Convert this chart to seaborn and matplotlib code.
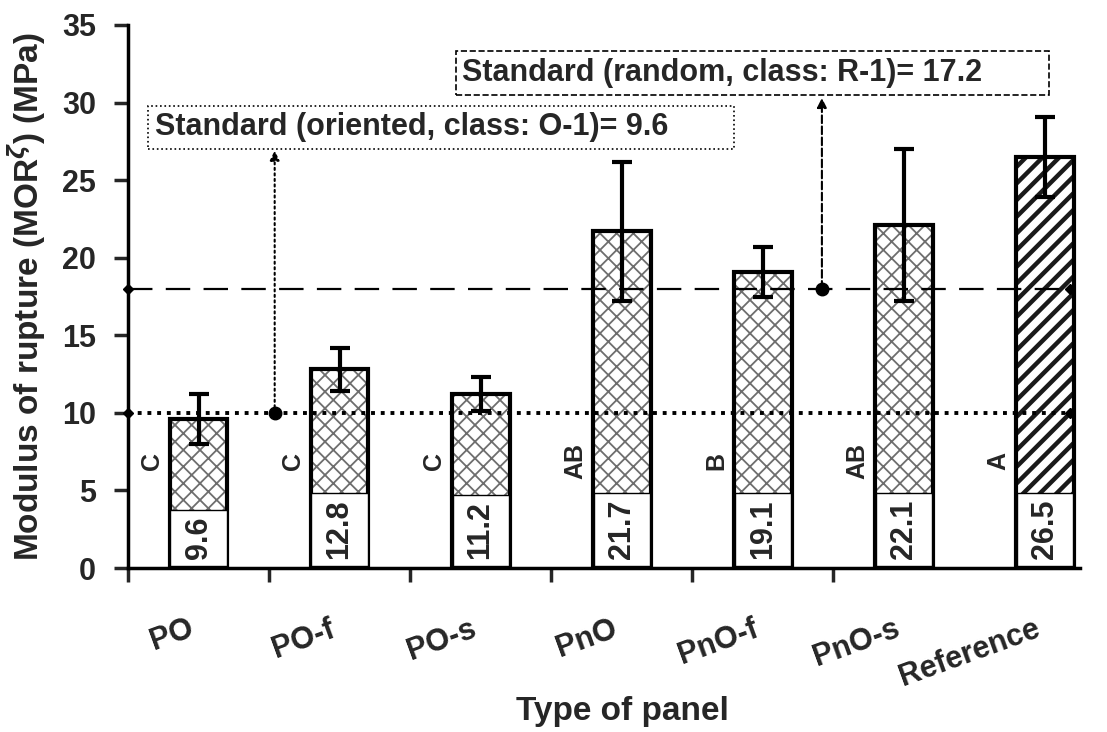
import matplotlib
matplotlib.use("Agg")
import matplotlib.pyplot as plt
import seaborn as sns
import pandas as pd

# ---- data ----
categories = ["PO", "PO-f", "PO-s", "PnO", "PnO-f", "PnO-s", "Reference"]
mor_values = [9.6, 12.8, 11.2, 21.7, 19.1, 22.1, 26.5]
mor_sd = [1.6, 1.4, 1.1, 4.5, 1.6, 4.9, 2.6]
group_letters = ["C", "C", "C", "AB", "B", "AB", "A"]
std_oriented = 10.0
std_random = 18.0
std_oriented_text = "Standard (oriented, class: O-1)= 9.6"
std_random_text = "Standard (random, class: R-1)= 17.2"
y_ticks = [0, 5, 10, 15, 20, 25, 30, 35]

sns.set_theme(style="white")
plt.rcParams["font.family"] = ["Liberation Sans", "DejaVu Sans"]
plt.rcParams["font.weight"] = "bold"
plt.rcParams["hatch.linewidth"] = 1.3

df = pd.DataFrame({"panel": categories, "mor": mor_values})

fig = plt.figure(figsize=(11.07, 7.32), dpi=100)
ax = fig.add_axes([128 / 1107, 1 - 568 / 732, 952 / 1107, 543 / 732])

bw = 0.41
# hatched fill layer
sns.barplot(data=df, x="panel", y="mor", ax=ax, width=bw, color="white",
            edgecolor="#6e6e6e", linewidth=0, errorbar=None, saturation=1)
for i, p in enumerate(ax.patches):
    if categories[i] == "Reference":
        p.set_hatch("//")
        p.set_edgecolor("#1a1a1a")
        if hasattr(p, "set_hatch_linewidth"):
            p.set_hatch_linewidth(3.2)
    else:
        p.set_hatch("xx")
# outline layer
sns.barplot(data=df, x="panel", y="mor", ax=ax, width=bw, fill=False,
            edgecolor="black", linewidth=3, errorbar=None)

xs = list(range(len(categories)))
ax.errorbar(xs, mor_values, yerr=mor_sd, fmt="none", ecolor="black",
            elinewidth=3, capsize=7, capthick=3, zorder=5)

# value labels
box_bottom = 0.15
value_texts = []
for x, v in zip(xs, mor_values):
    t = ax.text(x, box_bottom + 0.42, f"{v}", rotation=90, ha="center", va="bottom",
                fontsize=22, fontweight="bold", zorder=7)
    value_texts.append(t)

# group letters
for x, g in zip(xs, group_letters):
    ax.text(x - 0.33, 6.9, g, rotation=90, ha="center", va="center",
            fontsize=18, fontweight="bold", zorder=6)

# reference lines
x_left, x_right = -0.5, 6.18
ax.plot([x_left, x_right], [std_oriented, std_oriented], ls=(0, (1, 1.5)),
        color="black", lw=2.8, zorder=4)
ax.plot([x_left, x_right], [std_random, std_random], ls=(0, (11, 6)),
        color="black", lw=1.6, zorder=4)
ax.plot([x_left, x_right], [std_oriented, std_oriented], ls="none", marker="D",
        ms=5, color="black", zorder=8, clip_on=False)
ax.plot([x_left, x_right], [std_random, std_random], ls="none", marker="D",
        ms=5, color="black", zorder=8, clip_on=False)

# arrows to annotation boxes
ax.plot([0.54], [std_oriented], marker="o", ms=9, color="black", zorder=8)
ax.annotate("", xy=(0.54, 26.9), xytext=(0.54, std_oriented),
            arrowprops=dict(arrowstyle="-|>", ls=":", lw=1.5, color="black",
                            mutation_scale=14, shrinkA=0, shrinkB=0))
ax.plot([4.42], [std_random], marker="o", ms=9, color="black", zorder=8)
ax.annotate("", xy=(4.42, 30.3), xytext=(4.42, std_random),
            arrowprops=dict(arrowstyle="-|>", ls="--", lw=1.5, color="black",
                            mutation_scale=14, shrinkA=0, shrinkB=0))

ax.text(-0.31, 28.4, std_oriented_text + "       ", ha="left", va="center",
        fontsize=22, fontweight="bold",
        bbox=dict(boxstyle="square,pad=0.22", fc="white", ec="black", lw=1.2, ls=":"))
ax.text(1.87, 31.9, std_random_text + "       ", ha="left", va="center",
        fontsize=22, fontweight="bold",
        bbox=dict(boxstyle="square,pad=0.22", fc="white", ec="black", lw=1.2, ls="--"))

# axes styling
ax.set_xlim(-0.5, 6.25)
ax.set_ylim(0, 35)
ax.set_yticks(y_ticks)
ax.set_yticklabels([str(t) for t in y_ticks], fontsize=22, fontweight="bold")
ax.set_xticks([i - 0.5 for i in xs[:-1]])
ax.set_xticklabels([])
ax.set_xticks([x - 0.075 for x in xs], categories, minor=True)
for lab in ax.get_xticklabels(minor=True):
    lab.set_rotation(20)
    lab.set_ha("right")
    lab.set_rotation_mode("anchor")
    lab.set_fontsize(22)
    lab.set_fontweight("bold")
ax.tick_params(axis="x", which="major", direction="out", length=10, width=2.5,
               bottom=True)
ax.tick_params(axis="x", which="minor", length=0, pad=33, bottom=True)
ax.tick_params(axis="y", direction="out", length=10, width=2.5, left=True, pad=13)

for s in ["top", "right"]:
    ax.spines[s].set_visible(False)
for s in ["left", "bottom"]:
    ax.spines[s].set_linewidth(2.5)
    ax.spines[s].set_color("black")

ax.set_xlabel("Type of panel", fontsize=24, fontweight="bold")
ax.set_ylabel(r"Modulus of rupture (MOR$^{\zeta}$) (MPa)", fontsize=24,
              fontweight="bold")
ax.xaxis.set_label_coords(0.519, -0.235)
ax.yaxis.set_label_coords(-0.084, 0.5)

# white label boxes sized to the value text
fig.canvas.draw()
renderer = fig.canvas.get_renderer()
inv = ax.transData.inverted()
box_tops = []
for t in value_texts:
    bb = t.get_window_extent(renderer)
    top_data = inv.transform((0, bb.y1 + 6.5))[1]
    box_tops.append(top_data)
ax.bar(xs, [tp - box_bottom for tp in box_tops], bottom=box_bottom, width=bw - 0.012,
       color="white", edgecolor="black", linewidth=1.0, zorder=6)

fig.savefig("out.png", dpi=100)
